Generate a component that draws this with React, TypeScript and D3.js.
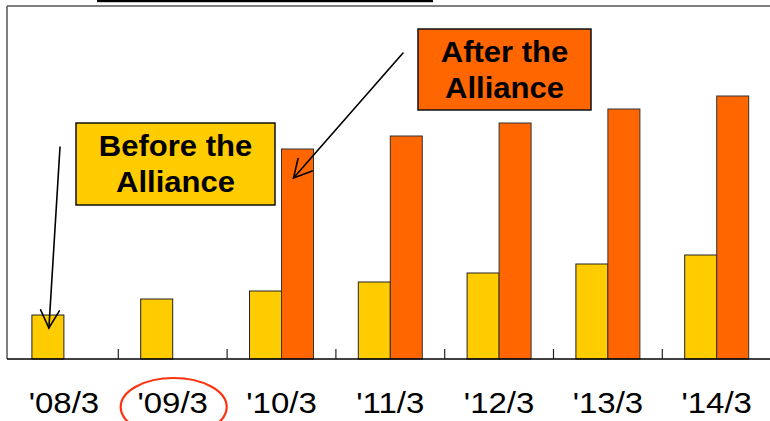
import React from "react";
import * as d3 from "d3";

// chart data (units, no y axis labels in the original)
const categories = ["'08/3", "'09/3", "'10/3", "'11/3", "'12/3", "'13/3", "'14/3"];
const beforeValues = [44, 60, 68, 77, 86, 95, 104];
const afterValues: (number | null)[] = [null, null, 210, 223, 236, 250, 263];
const series = ["before", "after"];
const circledCategory = "'09/3";

const width = 770;
const height = 421;
const baseY = 359;
const left = 7;

const YELLOW = "#FFCC00";
const ORANGE = "#FF6600";

function Callout({ x, y, w, h, fill, lines, scaleX }) {
  return (
    <g>
      <rect x={x} y={y} width={w} height={h} fill={fill} stroke="#111" strokeWidth={1.5} />
      {lines.map((t, i) => (
        <g key={t} transform={`translate(${x + w / 2},${y + 33 + i * 35.5}) scale(${scaleX},1)`}>
          <text
            textAnchor="middle"
            fontFamily="'Liberation Sans', Arial, sans-serif"
            fontWeight="bold"
            fontSize={29}
            fill="#000"
          >
            {t}
          </text>
        </g>
      ))}
    </g>
  );
}

function Arrow({ x1, y1, x2, y2 }) {
  const ang = Math.atan2(y2 - y1, x2 - x1);
  const len = 20;
  const spread = (28 * Math.PI) / 180;
  const a1 = [x2 - len * Math.cos(ang - spread), y2 - len * Math.sin(ang - spread)];
  const a2 = [x2 - len * Math.cos(ang + spread), y2 - len * Math.sin(ang + spread)];
  return (
    <g stroke="#000" strokeWidth={1.6} fill="none" strokeLinecap="round">
      <line x1={x1} y1={y1} x2={x2} y2={y2} />
      <polyline points={`${a1[0]},${a1[1]} ${x2},${y2} ${a2[0]},${a2[1]}`} />
    </g>
  );
}

export default function App() {
  const x = d3
    .scaleBand()
    .domain(categories)
    .range([9.5, 9.5 + categories.length * 108.8]);

  const inner = d3
    .scaleBand()
    .domain(series)
    .range([0, x.bandwidth()])
    .paddingInner(0)
    .paddingOuter(0.7);

  const y = d3.scaleLinear().domain([0, 300]).range([baseY, baseY - 300]);

  const bw = inner.bandwidth();

  // arrow tips point into the bars
  const beforeTipX = (x(categories[0]) as number) + (inner("before") as number) + bw / 2 + 1;
  const beforeTipY = y(beforeValues[0]) + 13;
  const afterTipX = (x(categories[2]) as number) + (inner("after") as number) + bw / 2 - 4;
  const afterTipY = y(afterValues[2] as number) + 29;

  const cx = (x(circledCategory) as number) + x.bandwidth() / 2 + 1;

  return (
    <svg
      width={width}
      height={height}
      style={{ position: "absolute", left: 0, top: 0, background: "#fff" }}
    >
      {/* title underline */}
      <rect x={97} y={0} width={336} height={2.2} fill="#000" />

      {/* frame */}
      <line x1={left} y1={6} x2={width} y2={6} stroke="#555" strokeWidth={1.5} />
      <line x1={left} y1={6} x2={left} y2={baseY} stroke="#555" strokeWidth={1.5} />

      {/* bars */}
      {categories.map((c, i) => {
        const x0 = x(c) as number;
        const b = beforeValues[i];
        const a = afterValues[i];
        return (
          <g key={c}>
            <rect
              x={x0 + (inner("before") as number)}
              y={y(b)}
              width={bw}
              height={baseY - y(b)}
              fill={YELLOW}
              stroke="#222"
              strokeWidth={1}
            />
            {a != null && (
              <rect
                x={x0 + (inner("after") as number)}
                y={y(a)}
                width={bw}
                height={baseY - y(a)}
                fill={ORANGE}
                stroke="#333"
                strokeWidth={1}
              />
            )}
          </g>
        );
      })}

      {/* axis */}
      <line x1={left} y1={baseY} x2={width} y2={baseY} stroke="#000" strokeWidth={1.6} />
      {categories.slice(1).map((c) => (
        <line
          key={c}
          x1={x(c)}
          x2={x(c)}
          y1={baseY - 10}
          y2={baseY}
          stroke="#222"
          strokeWidth={1.2}
        />
      ))}
      {categories.map((c) => (
        <g
          key={c}
          transform={`translate(${(x(c) as number) + x.bandwidth() / 2},413) scale(1.1,1)`}
        >
          <text
            textAnchor="middle"
            fontFamily="'Liberation Sans', Arial, sans-serif"
            fontSize={30}
            fill="#000"
          >
            {c}
          </text>
        </g>
      ))}

      {/* circle around '09/3 */}
      <ellipse cx={cx} cy={407} rx={53} ry={29} fill="none" stroke="#FF3311" strokeWidth={2.2} />

      {/* annotations */}
      <Callout
        x={76}
        y={123}
        w={199}
        h={82}
        fill={YELLOW}
        lines={["Before the", "Alliance"]}
        scaleX={1.07}
      />
      <Callout
        x={418}
        y={29}
        w={173}
        h={81}
        fill={ORANGE}
        lines={["After the", "Alliance"]}
        scaleX={1.07}
      />
      <Arrow x1={60} y1={147} x2={beforeTipX} y2={beforeTipY} />
      <Arrow x1={403} y1={53} x2={afterTipX} y2={afterTipY} />
    </svg>
  );
}
